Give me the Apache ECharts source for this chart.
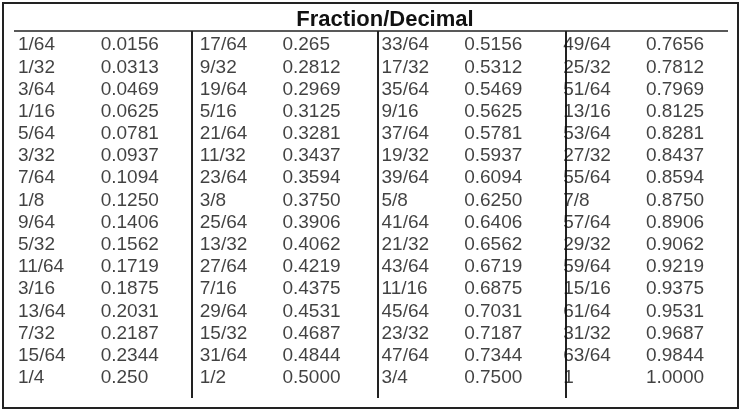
<!DOCTYPE html>
<html>
<head>
<meta charset="utf-8">
<script src="https://cdn.jsdelivr.net/npm/echarts@6/dist/echarts.min.js"></script>
<style>html,body{margin:0;padding:0;background:#fff}#main{width:741px;height:412px}</style>
</head>
<body>
<div id="main"></div>
<script>
var fractions = [
  ['1/64','1/32','3/64','1/16','5/64','3/32','7/64','1/8','9/64','5/32','11/64','3/16','13/64','7/32','15/64','1/4'],
  ['17/64','9/32','19/64','5/16','21/64','11/32','23/64','3/8','25/64','13/32','27/64','7/16','29/64','15/32','31/64','1/2'],
  ['33/64','17/32','35/64','9/16','37/64','19/32','39/64','5/8','41/64','21/32','43/64','11/16','45/64','23/32','47/64','3/4'],
  ['49/64','25/32','51/64','13/16','53/64','27/32','55/64','7/8','57/64','29/32','59/64','15/16','61/64','31/32','63/64','1']
];
var decimals = [
  ['0.0156','0.0313','0.0469','0.0625','0.0781','0.0937','0.1094','0.1250','0.1406','0.1562','0.1719','0.1875','0.2031','0.2187','0.2344','0.250'],
  ['0.265','0.2812','0.2969','0.3125','0.3281','0.3437','0.3594','0.3750','0.3906','0.4062','0.4219','0.4375','0.4531','0.4687','0.4844','0.5000'],
  ['0.5156','0.5312','0.5469','0.5625','0.5781','0.5937','0.6094','0.6250','0.6406','0.6562','0.6719','0.6875','0.7031','0.7187','0.7344','0.7500'],
  ['0.7656','0.7812','0.7969','0.8125','0.8281','0.8437','0.8594','0.8750','0.8906','0.9062','0.9219','0.9375','0.9531','0.9687','0.9844','1.0000']
];
var rows = fractions[0].map(function (f, i) { return 'r' + i; });
var decOffset = 0.455; // decimal column position inside a group

var fracData = [], decData = [];
fractions.forEach(function (col, g) {
  col.forEach(function (f, r) {
    fracData.push({ value: [g, rows[r]], label: { formatter: f } });
    decData.push({ value: [g + decOffset, rows[r]], label: { formatter: decimals[g][r] } });
  });
});

var txt = { show: true, position: 'inside', align: 'left', verticalAlign: 'middle',
  color: '#111', fontFamily: 'Liberation Sans, Arial, sans-serif', fontSize: 19, offset: [4, 0] };

var myChart = echarts.init(document.getElementById('main'));
var option = {
  animation: false,
  title: {
    text: 'Fraction/Decimal', left: 380, top: 4, textAlign: 'center',
    textStyle: { fontFamily: 'Liberation Sans, Arial, sans-serif', fontSize: 22, fontWeight: 'bold', color: '#111' }
  },
  grid: { left: 14, right: -22, top: 34, bottom: 23 },
  xAxis: { type: 'value', min: 0, max: 4, show: false },
  yAxis: { type: 'category', data: rows, inverse: true, show: false },
  graphic: [
    { type: 'rect', shape: { x: 3, y: 3, width: 735, height: 405 }, style: { fill: 'none', stroke: '#222', lineWidth: 2 } },
    { type: 'line', shape: { x1: 14, y1: 31, x2: 728, y2: 31 }, style: { stroke: '#222', lineWidth: 1.5 } },
    { type: 'line', shape: { x1: 192, y1: 31, x2: 192, y2: 398 }, style: { stroke: '#222', lineWidth: 2 } },
    { type: 'line', shape: { x1: 378, y1: 31, x2: 378, y2: 398 }, style: { stroke: '#222', lineWidth: 2 } },
    { type: 'line', shape: { x1: 566, y1: 31, x2: 566, y2: 398 }, style: { stroke: '#222', lineWidth: 2 } }
  ],
  series: [
    { type: 'scatter', symbolSize: 1, itemStyle: { color: 'transparent' }, label: txt, data: fracData },
    { type: 'scatter', symbolSize: 1, itemStyle: { color: 'transparent' }, label: txt, data: decData }
  ]
};
myChart.setOption(option);
</script>
</body>
</html>
